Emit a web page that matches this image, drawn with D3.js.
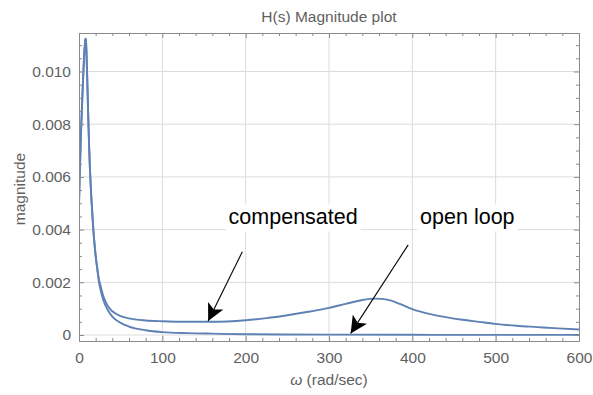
<!DOCTYPE html>
<html>
<head>
<meta charset="utf-8">
<script src="https://cdn.jsdelivr.net/npm/d3@7"></script>
<style>
  html, body { margin: 0; padding: 0; background: #fff; }
  svg { display: block; font-family: "Liberation Sans", Arial, sans-serif; }
</style>
</head>
<body>
<div id="chart"></div>
<script>
// ---- data ----
const omegaComp = [0, 0.5, 1, 2, 3, 4, 5, 6, 7, 7.5, 8, 8.5, 9, 10, 11, 12, 13, 14, 15, 17, 20, 22,
  24, 26, 28, 30, 35, 40, 50, 60, 80, 100, 130, 160, 200, 225, 250, 275, 300, 320, 340, 355, 370,
  385, 400, 420, 440, 460, 480, 500, 525, 550, 575, 600];
const magComp = [0.0049, 0.0056, 0.0062, 0.0073, 0.0082, 0.0090, 0.0098, 0.0105, 0.0110, 0.01118, 0.01124, 0.0111, 0.0107, 0.0096, 0.0084, 0.0073, 0.0064, 0.0057, 0.0051, 0.0041, 0.0030, 0.0025,
  0.0021, 0.00185, 0.0016, 0.0014, 0.00108, 0.0009, 0.00072, 0.00063, 0.00055, 0.00052, 0.0005, 0.0005, 0.00056, 0.00064, 0.00075, 0.00088, 0.00103, 0.00118, 0.00133, 0.00138, 0.00134,
  0.00118, 0.00098, 0.0008, 0.00068, 0.00058, 0.0005, 0.00042, 0.00035, 0.0003, 0.00025, 0.00021];

const omegaOpen = [0, 0.5, 1, 2, 3, 4, 5, 6, 7, 7.5, 8, 8.5, 9, 10, 11, 12, 13, 14, 15, 17, 20, 22,
  24, 26, 28, 30, 35, 40, 50, 60, 80, 100, 130, 160, 200, 300, 400, 500, 600];
const magOpen = [0.0049, 0.0056, 0.0062, 0.0073, 0.0082, 0.0090, 0.0098, 0.0105, 0.0110, 0.01118, 0.01124, 0.0111, 0.0107, 0.0096, 0.0084, 0.0073, 0.0064, 0.0057, 0.0051, 0.0041, 0.0030, 0.0025,
  0.002, 0.0017, 0.00145, 0.00125, 0.00092, 0.0007, 0.00046, 0.00032, 0.00018, 0.00011, 0.00007, 0.00005, 0.00003, 0.000013, 0.000007, 0.000004, 0.000003];

const xTicks = [0, 100, 200, 300, 400, 500, 600];
const yTicks = [0, 0.002, 0.004, 0.006, 0.008, 0.010];
const yTickLabels = ["0", "0.002", "0.004", "0.006", "0.008", "0.010"];

const annotLabels = ["compensated", "open loop"];
const annotLabelOmega = [257, 466];
const annotLabelMag = [0.0042, 0.0042];
const arrowFromOmega = [196, 395];
const arrowFromMag = [0.00316, 0.00342];
const arrowToOmega = [155, 326];
const arrowToMag = [0.00053, 0.00006];

const titleText = "H(s) Magnitude plot";
const yLabelText = "magnitude";

// ---- layout ----
const W = 593, H = 395;
const L = 79, R = 579, T = 33, B = 341;

const svg = d3.select("#chart").append("svg").attr("width", W).attr("height", H);

const x = d3.scaleLinear().domain([0, 600]).range([L, R]);
const y = d3.scaleLinear().domain([-0.000228, 0.011461]).range([B, T]);

const gridColor = "#dcdcdc";
const frameColor = "#8a8a8a";
const textColor = "#5f5f5f";
const lineColor = "#5e81b5";

// grid
svg.append("g").selectAll("line.vg").data(xTicks.filter(d => d > 0 && d < 600)).join("line")
  .attr("x1", d => x(d)).attr("x2", d => x(d)).attr("y1", T).attr("y2", B)
  .attr("stroke", gridColor).attr("stroke-width", 1);
svg.append("g").selectAll("line.hg").data(yTicks).join("line")
  .attr("x1", L).attr("x2", R).attr("y1", d => y(d)).attr("y2", d => y(d))
  .attr("stroke", gridColor).attr("stroke-width", 1);

// curves
const lineGen = (xs) => d3.line().x((d, i) => x(xs[i])).y(d => y(d)).curve(d3.curveMonotoneX);
const clip = svg.append("clipPath").attr("id", "clip").append("rect")
  .attr("x", L).attr("y", T).attr("width", R - L).attr("height", B - T);
svg.append("path").datum(magOpen).attr("d", lineGen(omegaOpen))
  .attr("fill", "none").attr("stroke", lineColor).attr("stroke-width", 1.9).attr("clip-path", "url(#clip)");
svg.append("path").datum(magComp).attr("d", lineGen(omegaComp))
  .attr("fill", "none").attr("stroke", lineColor).attr("stroke-width", 1.9).attr("clip-path", "url(#clip)");

// frame axes (ticks inward)
const xMinor = d3.range(0, 601, 20).filter(d => d % 100 !== 0);
const yMinor = d3.range(0, 0.0115, 0.0005).filter(d => Math.abs(d / 0.002 - Math.round(d / 0.002)) > 1e-6);

const axB = d3.axisBottom(x).tickValues(xTicks).tickSizeInner(-5).tickSizeOuter(0).tickPadding(11).tickFormat(d3.format("d"));
const axT = d3.axisTop(x).tickValues(xTicks).tickSizeInner(-5).tickSizeOuter(0).tickFormat("");
const axL = d3.axisLeft(y).tickValues(yTicks).tickSizeInner(-5).tickSizeOuter(0).tickPadding(8).tickFormat((d, i) => yTickLabels[i]);
const axR = d3.axisRight(y).tickValues(yTicks).tickSizeInner(-5).tickSizeOuter(0).tickFormat("");

const axMinB = d3.axisBottom(x).tickValues(xMinor).tickSizeInner(-3).tickSizeOuter(0).tickFormat("");
const axMinT = d3.axisTop(x).tickValues(xMinor).tickSizeInner(-3).tickSizeOuter(0).tickFormat("");
const axMinL = d3.axisLeft(y).tickValues(yMinor).tickSizeInner(-3).tickSizeOuter(0).tickFormat("");
const axMinR = d3.axisRight(y).tickValues(yMinor).tickSizeInner(-3).tickSizeOuter(0).tickFormat("");

function styleAxis(g) {
  g.selectAll("path").attr("stroke", frameColor).attr("stroke-width", 1);
  g.selectAll("line").attr("stroke", frameColor).attr("stroke-width", 1);
  g.selectAll("text").attr("fill", textColor).style("font-size", "15.5px")
    .style("font-family", '"Liberation Sans", Arial, sans-serif');
}
[[axMinB, `translate(0,${B})`], [axMinT, `translate(0,${T})`], [axMinL, `translate(${L},0)`], [axMinR, `translate(${R},0)`],
 [axB, `translate(0,${B})`], [axT, `translate(0,${T})`], [axL, `translate(${L},0)`], [axR, `translate(${R},0)`]]
  .forEach(([ax, tr]) => svg.append("g").attr("transform", tr).call(ax).call(styleAxis));

// title & axis labels
svg.append("text").attr("x", (L + R) / 2).attr("y", 21.5).attr("text-anchor", "middle")
  .attr("fill", textColor).style("font-size", "15.5px").text(titleText);
svg.append("text").attr("transform", `translate(25,${(T + B) / 2 + 2}) rotate(-90)`).attr("text-anchor", "middle")
  .attr("fill", textColor).style("font-size", "15.5px").text(yLabelText);
const xl = svg.append("text").attr("x", (L + R) / 2).attr("y", 385).attr("text-anchor", "middle")
  .attr("fill", textColor).style("font-size", "15.5px");
xl.append("tspan").style("font-style", "italic").text("ω");
xl.append("tspan").text(" (rad/sec)");

// annotations
const defs = svg.append("defs");
defs.append("marker").attr("id", "ah").attr("viewBox", "0 0 10 10").attr("refX", 10).attr("refY", 5)
  .attr("markerWidth", 17).attr("markerHeight", 17).attr("markerUnits", "userSpaceOnUse").attr("orient", "auto")
  .append("path").attr("d", "M0,0 L10,5 L0,10 L2.5,5 Z").attr("fill", "#000");

annotLabels.forEach((lab, i) => {
  svg.append("line")
    .attr("x1", x(arrowFromOmega[i])).attr("y1", y(arrowFromMag[i]))
    .attr("x2", x(arrowToOmega[i])).attr("y2", y(arrowToMag[i]))
    .attr("stroke", "#000").attr("stroke-width", 1.1).attr("marker-end", "url(#ah)");
  const t = svg.append("text").attr("x", x(annotLabelOmega[i])).attr("y", y(annotLabelMag[i]))
    .attr("text-anchor", "middle").attr("fill", "#000").style("font-size", "21.5px").text(lab);
  const bb = t.node().getBBox();
  svg.insert("rect", () => t.node())
    .attr("x", bb.x - 3).attr("y", bb.y - 1).attr("width", bb.width + 6).attr("height", bb.height + 3)
    .attr("fill", "#fff");
});
</script>
</body>
</html>
